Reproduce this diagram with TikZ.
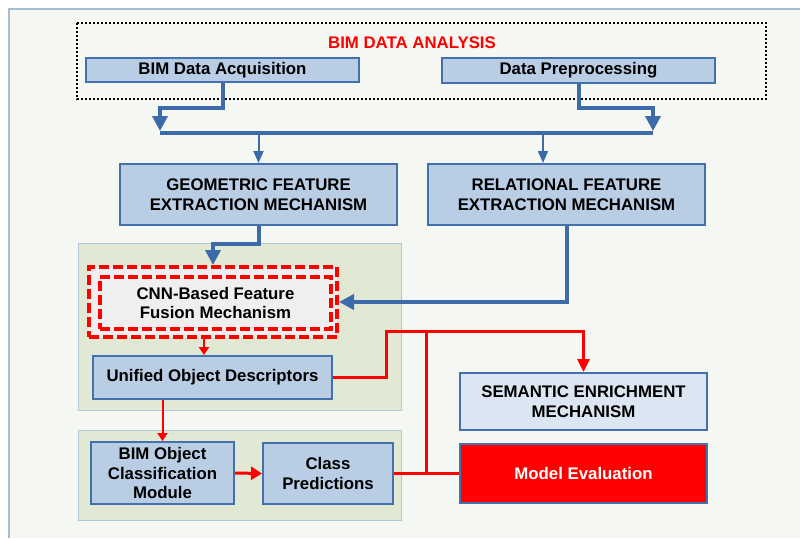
\documentclass[tikz,border=0pt]{standalone}
\usepackage{fontspec}
\setmainfont{Liberation Sans}
\usetikzlibrary{calc}
\usetikzlibrary{arrows.meta}

\definecolor{boxblue}{HTML}{B9CDE5}
\definecolor{lineblue}{HTML}{4371AE}
\definecolor{arrowblue}{HTML}{3D6BA9}
\definecolor{paleblue}{HTML}{DCE6F2}
\definecolor{panelgreen}{HTML}{E1E9D4}
\definecolor{panelline}{HTML}{B3C6D9}
\definecolor{backfill}{HTML}{F5F7F3}
\definecolor{backline}{HTML}{A9BDD0}
\definecolor{fusegray}{HTML}{EFEFF0}

\begin{document}
\begin{tikzpicture}[x=1pt,y=-1pt,
    every node/.style={font=\bfseries\fontsize{16.8}{19.5}\selectfont,align=center,inner sep=0pt},
    block/.style={draw=lineblue,line width=2pt,fill=boxblue},
    fusebox/.style={draw=red,dash pattern=on 10pt off 4pt},
    blue thick/.style={draw=arrowblue,line width=4pt,-{Triangle[width=15pt,length=15pt]}},
    blue thin/.style={draw=arrowblue,line width=2pt,-{Triangle[width=10pt,length=12pt]}},
    red thin/.style={draw=red,line width=2pt,-{Triangle[width=10pt,length=8pt]}},
    red thick/.style={draw=red,line width=3pt}]
    \path[use as bounding box] (0,0) rectangle (800,538);
    % Background.
    \fill[backfill] (9,9) rectangle (800,538);
    \draw[backline,line width=1.5pt] (9,538) -- (9,9) -- (800,9);
    % Panels.
    \draw[panelline,fill=panelgreen] (78,243) rectangle (401,410);
    \draw[panelline,fill=panelgreen] (78,430) rectangle (401,520);
    \draw[line width=2pt,dash pattern=on 2pt off 2pt] (77,23) rectangle (766,99);
    % Boxes.
    \node[text=red] (title) at (412,43) {BIM DATA ANALYSIS};
    \node[block,minimum width=273pt,minimum height=24pt] (acq) at (222.5,70) {BIM Data Acquisition};
    \node[block,minimum width=273pt,minimum height=25pt] (prep) at (578.5,70.5) {Data Preprocessing};
    \node[block,minimum width=277pt,minimum height=61pt] (geo) at (258.5,194.5) {GEOMETRIC FEATURE\\EXTRACTION MECHANISM};
    \node[block,minimum width=277pt,minimum height=61pt] (rel) at (566.5,194.5) {RELATIONAL FEATURE\\EXTRACTION MECHANISM};
    \node[fusebox,fill=fusegray,line width=4pt,minimum width=248pt,minimum height=70pt] (cnnout) at (213,302) {};
    \node[fusebox,line width=3.5pt,minimum width=231pt,minimum height=52pt] (cnn) at (215.5,303) {CNN-Based Feature\\Fusion Mechanism};
    \node[block,minimum width=239pt,minimum height=43pt] (uod) at (212.5,377.5) {Unified Object Descriptors};
    \node[block,minimum width=143pt,minimum height=62pt] (bimobj) at (162.5,473) {BIM Object\\Classification\\Module};
    \node[block,minimum width=130pt,minimum height=61pt] (cls) at (328,473.5) {Class\\Predictions};
    \node[block,fill=paleblue,minimum width=247pt,minimum height=57pt] (sem) at (583.5,401.5) {SEMANTIC ENRICHMENT\\MECHANISM};
    \node[block,fill=red,text=white,minimum width=247pt,minimum height=59pt] (eval) at (583.5,473.5) {Model Evaluation};
    % Blue connectors.
    \coordinate (barL) at (160,133);
    \coordinate (barR) at (653,133);
    \coordinate (relin) at ([xshift=-23.5pt]rel.north);
    \draw[blue thick,-,line width=4.5pt] (barL) -- (barR);
    \draw[blue thick] (acq.south) -- ++(0,25) -| ([yshift=2pt]barL);
    \draw[blue thick] (prep.south) -- ++(0,24) -| ([yshift=2pt]barR);
    \draw[blue thin] (barL -| geo.north) -- (geo.north);
    \draw[blue thin] (relin |- barL) -- (relin);
    \draw[blue thick] (geo.south) -- ++(0,18) -| (cnnout.north);
    \draw[blue thick] (rel.south) |- (cnnout.east);
    % Red connectors.
    \coordinate (split) at (426,331);
    \coordinate (fusedown) at ([xshift=-9pt]cnnout.south);
    \draw[red thin] (fusedown) -- (fusedown |- uod.north);
    \draw[red thick,-{Triangle[width=12pt,length=13pt]}] (uod.east) -- ++(53,0) |- (split) -| (sem.north);
    \draw[red thick] (cls.east) -- (eval.west);
    \draw[red thick] (split) -- (split |- cls.east);
    \draw[red thin] (bimobj.north |- uod.south) -- (bimobj.north);
    \draw[red thick,-{Triangle[width=13pt,length=11pt]}] (bimobj.east) -- (cls.west);
\end{tikzpicture}
\end{document}
